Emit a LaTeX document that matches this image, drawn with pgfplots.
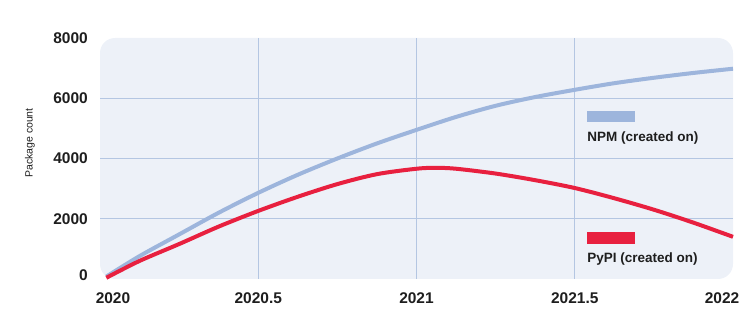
\documentclass[border=0pt]{standalone}
\usepackage{pgfplots}
\pgfplotsset{compat=1.18}
\usepackage{fontspec}
\setmainfont{Liberation Sans}
\definecolor{bgc}{HTML}{EDF1F8}
\definecolor{gridc}{HTML}{B4C6E2}
\definecolor{npm}{HTML}{9DB5DC}
\definecolor{pypi}{HTML}{E8203F}
\definecolor{txt}{HTML}{1E1E1E}
\begin{document}
\begin{tikzpicture}[x=1pt,y=1pt]
\path[use as bounding box] (0,0) rectangle (755,336);
\node[rotate=90, font=\fontsize{10.5}{12}\selectfont, text=txt] at (30,193) {Package count};
\begin{axis}[
  at={(100pt,57pt)}, anchor=south west,
  scale only axis, width=633pt, height=241pt,
  xmin=2020, xmax=2022, ymin=0, ymax=8000,
  axis line style={draw=none}, tick style={draw=none},
  axis background/.style={fill=bgc, rounded corners=15pt},
  xtick={2020,2020.5,2021,2021.5,2022},
  xticklabels={{\hspace*{26pt}2020},2020.5,2021,2021.5,{2022\hspace*{22pt}}},
  ytick={0,2000,4000,6000,8000},
  yticklabels={{\raisebox{7pt}{0}},2000,4000,6000,{\raisebox{-4pt}{8000}}},
  xticklabel style={font=\fontsize{15.5}{17}\selectfont\bfseries, text=txt, anchor=north, inner sep=0pt, yshift=-13pt},
  yticklabel style={font=\fontsize{15.5}{17}\selectfont\bfseries, text=txt, anchor=east, inner sep=0pt, xshift=-12pt},
  clip=false,
]
\draw[gridc, line width=0.8pt] (axis cs:2020.5,0) -- (axis cs:2020.5,8000);
\draw[gridc, line width=0.8pt] (axis cs:2021,0) -- (axis cs:2021,8000);
\draw[gridc, line width=0.8pt] (axis cs:2021.5,0) -- (axis cs:2021.5,8000);
\draw[gridc, line width=0.8pt] (axis cs:2020,2000) -- (axis cs:2022,2000);
\draw[gridc, line width=0.8pt] (axis cs:2020,4000) -- (axis cs:2022,4000);
\draw[gridc, line width=0.8pt] (axis cs:2020,6000) -- (axis cs:2022,6000);
\addplot[npm, line width=4pt, smooth, tension=0.5] coordinates {
(2020.02,80) (2020.125,760) (2020.25,1480) (2020.375,2200) (2020.5,2860)
(2020.625,3460) (2020.75,4000) (2020.875,4500) (2021,4950)
(2021.125,5380) (2021.25,5750) (2021.375,6040) (2021.5,6280)
(2021.625,6500) (2021.75,6680) (2021.875,6840) (2022,6980)};
\addplot[pypi, line width=4pt, smooth, tension=0.5] coordinates {
(2020.02,40) (2020.125,600) (2020.25,1160) (2020.375,1740) (2020.5,2260)
(2020.625,2730) (2020.75,3150) (2020.875,3480) (2021,3660) (2021.06,3690)
(2021.125,3660) (2021.25,3500) (2021.375,3280) (2021.5,3020)
(2021.625,2680) (2021.75,2300) (2021.875,1870) (2022,1400)};
\fill[npm] (axis cs:2021.539,5212) rectangle (axis cs:2021.69,5577);
\node[anchor=west, font=\fontsize{13.5}{15}\selectfont\bfseries, text=txt, inner sep=0pt] at (axis cs:2021.539,4664) {NPM (created on)};
\fill[pypi] (axis cs:2021.539,1162) rectangle (axis cs:2021.69,1560);
\node[anchor=west, font=\fontsize{13.5}{15}\selectfont\bfseries, text=txt, inner sep=0pt] at (axis cs:2021.539,664) {PyPI (created on)};
\end{axis}
\end{tikzpicture}
\end{document}
